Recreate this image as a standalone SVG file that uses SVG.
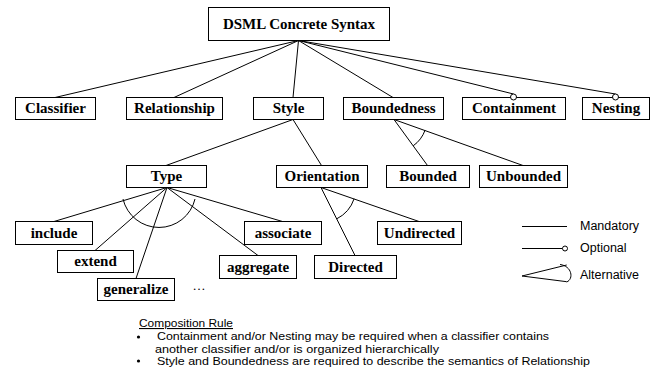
<svg xmlns="http://www.w3.org/2000/svg" width="654" height="374" viewBox="0 0 654 374">
<style>
.box{fill:#fff;stroke:#000;stroke-width:1}
.lbl{font-family:"Liberation Serif","Times New Roman",serif;font-weight:bold;font-size:15px;text-anchor:middle;fill:#000}
.ln{stroke:#000;stroke-width:1;fill:none}
.opt{fill:#fff;stroke:#000;stroke-width:1}
.leg{font-family:"Liberation Sans",Arial,sans-serif;font-size:12.5px;fill:#000}
.rule{font-family:"Liberation Sans",Arial,sans-serif;font-size:11px;fill:#000}
</style>
<rect width="654" height="374" fill="#fff"/>
<g id="connectors">
<line class="ln" x1="298.5" y1="40.5" x2="55" y2="97.5"/>
<line class="ln" x1="298.5" y1="40.5" x2="174" y2="97.5"/>
<line class="ln" x1="298.5" y1="40.5" x2="293" y2="97.5"/>
<line class="ln" x1="298.5" y1="40.5" x2="393" y2="97.5"/>
<line class="ln" x1="298.5" y1="40.5" x2="513.5" y2="94"/>
<line class="ln" x1="298.5" y1="40.5" x2="615.5" y2="94"/>
<line class="ln" x1="293" y1="119.5" x2="166" y2="165.5"/>
<line class="ln" x1="293" y1="119.5" x2="321.5" y2="165.5"/>
<line class="ln" x1="394" y1="119.5" x2="427.5" y2="165.5"/>
<line class="ln" x1="394" y1="119.5" x2="523" y2="165.5"/>
<path class="ln" d="M413.2,145.8 A33,33 0 0 0 425.1,130.1"/>
<line class="ln" x1="167" y1="187.5" x2="54" y2="221.5"/>
<line class="ln" x1="167" y1="187.5" x2="95" y2="250.5"/>
<line class="ln" x1="167" y1="187.5" x2="136" y2="278.5"/>
<line class="ln" x1="167" y1="187.5" x2="258" y2="255.5"/>
<line class="ln" x1="167" y1="187.5" x2="282.5" y2="221.5"/>
<path class="ln" d="M123,199 A37,37 0 0 0 195,199"/>
<line class="ln" x1="321" y1="187.5" x2="355" y2="255.5"/>
<line class="ln" x1="321" y1="187.5" x2="419" y2="221.5"/>
<path class="ln" d="M336.8,218.8 A35,35 0 0 0 354.1,198.8"/>
</g>
<g id="dsml"><rect class="box" x="208.5" y="7.5" width="181" height="33"/><text class="lbl" x="299" y="29">DSML Concrete Syntax</text></g>
<g id="classifier"><rect class="box" x="15.5" y="97.5" width="80" height="22"/><text class="lbl" x="55.5" y="113">Classifier</text></g>
<g id="relationship"><rect class="box" x="126.5" y="97.5" width="96" height="22"/><text class="lbl" x="174.5" y="113">Relationship</text></g>
<g id="style"><rect class="box" x="253.5" y="97.5" width="70" height="22"/><text class="lbl" x="288.5" y="113">Style</text></g>
<g id="boundedness"><rect class="box" x="343.5" y="97.5" width="100" height="22"/><text class="lbl" x="393.5" y="113">Boundedness</text></g>
<g id="containment"><rect class="box" x="462.5" y="97.5" width="103" height="22"/><text class="lbl" x="514" y="113">Containment</text><circle class="opt" cx="513.5" cy="97" r="3"/></g>
<g id="nesting"><rect class="box" x="582.5" y="97.5" width="67" height="22"/><text class="lbl" x="616" y="113">Nesting</text><circle class="opt" cx="615.5" cy="97" r="3"/></g>
<g id="type"><rect class="box" x="126.5" y="165.5" width="80" height="22"/><text class="lbl" x="166.5" y="181">Type</text></g>
<g id="orientation"><rect class="box" x="276.5" y="165.5" width="91" height="22"/><text class="lbl" x="322" y="181">Orientation</text></g>
<g id="bounded"><rect class="box" x="386.5" y="165.5" width="83" height="22"/><text class="lbl" x="428" y="181">Bounded</text></g>
<g id="unbounded"><rect class="box" x="479.5" y="165.5" width="88" height="22"/><text class="lbl" x="523.5" y="181">Unbounded</text></g>
<g id="include"><rect class="box" x="15.5" y="221.5" width="77" height="23"/><text class="lbl" x="54" y="238">include</text></g>
<g id="associate"><rect class="box" x="244.5" y="221.5" width="77" height="23"/><text class="lbl" x="283" y="238">associate</text></g>
<g id="undirected"><rect class="box" x="377.5" y="221.5" width="84" height="23"/><text class="lbl" x="419.5" y="238">Undirected</text></g>
<g id="extend"><rect class="box" x="57.5" y="250.5" width="76" height="22"/><text class="lbl" x="95.5" y="266">extend</text></g>
<g id="aggregate"><rect class="box" x="219.5" y="255.5" width="77" height="23"/><text class="lbl" x="258" y="272">aggregate</text></g>
<g id="directed"><rect class="box" x="314.5" y="255.5" width="82" height="23"/><text class="lbl" x="355.5" y="272">Directed</text></g>
<g id="generalize"><rect class="box" x="97.5" y="278.5" width="77" height="22"/><text class="lbl" x="136" y="294">generalize</text></g>
<text x="199" y="290" font-family="Liberation Serif, serif" font-size="13" text-anchor="middle">…</text>
<g id="legend">
<line class="ln" x1="522" y1="226.5" x2="567" y2="226.5"/>
<text class="leg" x="580" y="230">Mandatory</text>
<line class="ln" x1="522" y1="248.5" x2="562.5" y2="248.5"/>
<circle class="opt" cx="565" cy="248.5" r="2.5"/>
<text class="leg" x="580" y="252">Optional</text>
<path class="ln" d="M522,276 L566.7,265 M522,276 L566.7,281.7 M560,264.5 C572,266 574,279 566.7,282"/>
<text class="leg" x="580" y="279">Alternative</text>
</g>
<g id="rule">
<text class="rule" x="139" y="327" textLength="94" lengthAdjust="spacingAndGlyphs" text-decoration="underline">Composition Rule</text>
<circle cx="138.5" cy="337" r="1.6" fill="#000"/>
<text class="rule" x="157" y="340" textLength="392" lengthAdjust="spacingAndGlyphs">Containment and/or Nesting may be required when a classifier contains</text>
<text class="rule" x="155" y="352.5" textLength="284" lengthAdjust="spacingAndGlyphs">another classifier and/or is organized hierarchically</text>
<circle cx="138.5" cy="361" r="1.6" fill="#000"/>
<text class="rule" x="157" y="365" textLength="433" lengthAdjust="spacingAndGlyphs">Style and Boundedness are required to describe the semantics of Relationship</text>
</g>
</svg>
